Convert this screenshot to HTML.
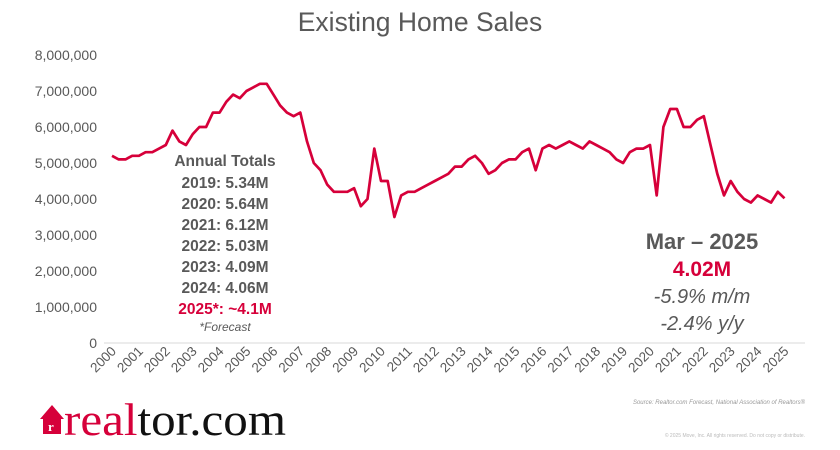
<!DOCTYPE html>
<html><head><meta charset="utf-8"><style>
body{margin:0;width:840px;height:450px;background:#fff;overflow:hidden;font-family:"Liberation Sans",sans-serif}
svg{display:block}
</style></head><body>
<svg width="840" height="450">
<text x="420" y="31" text-anchor="middle" font-size="26.5" fill="#595959">Existing Home Sales</text>
<g id="yaxis"></g><g id="xaxis"></g>
<line x1="104" y1="343" x2="805" y2="343" stroke="#d9d9d9"/>
<path id="line" fill="none" stroke="#d6003a" stroke-width="2.7" stroke-linejoin="round"/>
<g font-weight="bold" font-size="15.5" fill="#595959" text-anchor="middle">
<text x="225" y="166">Annual Totals</text>
<text x="225" y="188">2019: 5.34M</text>
<text x="225" y="209">2020: 5.64M</text>
<text x="225" y="230">2021: 6.12M</text>
<text x="225" y="251">2022: 5.03M</text>
<text x="225" y="272">2023: 4.09M</text>
<text x="225" y="293">2024: 4.06M</text>
<text x="225" y="314" fill="#d6003a">2025*: ~4.1M</text>
<text x="225" y="331" font-size="12" font-weight="normal" font-style="italic">*Forecast</text>
</g>
<g text-anchor="middle" fill="#595959">
<text x="702" y="249" font-size="22" font-weight="bold">Mar – 2025</text>
<text x="702" y="276" font-size="21" font-weight="bold" fill="#d6003a">4.02M</text>
<text x="702" y="303" font-size="20" font-style="italic">-5.9%  m/m</text>
<text x="702" y="330" font-size="20" font-style="italic">-2.4%  y/y</text>
</g>
<text x="805" y="404" text-anchor="end" font-size="6" font-style="italic" fill="#999">Source: Realtor.com Forecast, National Association of Realtors®</text>
<text x="805" y="437" text-anchor="end" font-size="5" fill="#bbb">© 2025 Move, Inc. All rights reserved. Do not copy or distribute.</text>
<g>
<path d="M40 419 L52 405 L64 419 L61 419 L61 434 L43 434 L43 419 Z" fill="#d6003a"/>
<text x="48" y="431" font-family="Liberation Serif,serif" font-size="13" font-weight="bold" fill="#fff">r</text>
<text x="64" y="435" font-family="Liberation Serif,serif" font-size="46" textLength="222" lengthAdjust="spacingAndGlyphs"><tspan fill="#d6003a">real</tspan><tspan fill="#111">tor.com</tspan></text>
</g>
</svg>
<script>
const yTicks=[0,1,2,3,4,5,6,7,8];
const yLabels=["0","1,000,000","2,000,000","3,000,000","4,000,000","5,000,000","6,000,000","7,000,000","8,000,000"];
const years=[2000,2001,2002,2003,2004,2005,2006,2007,2008,2009,2010,2011,2012,2013,2014,2015,2016,2017,2018,2019,2020,2021,2022,2023,2024,2025];
const startYear=2000;
const salesM=[5.2,5.1,5.1,5.2, 5.2,5.3,5.3,5.4, 5.5,5.9,5.6,5.5, 5.8,6.0,6.0,6.4, 6.4,6.7,6.9,6.8, 7.0,7.1,7.2,7.2,
6.9,6.6,6.4,6.3, 6.4,5.6,5.0,4.8, 4.4,4.2,4.2,4.2, 4.3,3.8,4.0,5.4, 4.5,4.5,3.5,4.1, 4.2,4.2,4.3,4.4,
4.5,4.6,4.7,4.9, 4.9,5.1,5.2,5.0, 4.7,4.8,5.0,5.1, 5.1,5.3,5.4,4.8, 5.4,5.5,5.4,5.5, 5.6,5.5,5.4,5.6,
5.5,5.4,5.3,5.1, 5.0,5.3,5.4,5.4, 5.5,4.1,6.0,6.5, 6.5,6.0,6.0,6.2, 6.3,5.5,4.7,4.1, 4.5,4.2,4.0,3.9,
4.1,4.0,3.9,4.2, 4.02];
const ns="http://www.w3.org/2000/svg";
const y=v=>343-v*36;
const x=t=>112+(t-2000)*26.9;
const ya=document.getElementById('yaxis');
yTicks.forEach((v,i)=>{const t=document.createElementNS(ns,'text');


t.setAttribute('x',97);t.setAttribute('y',y(v)+5);t.setAttribute('text-anchor','end');t.setAttribute('font-size','14');t.setAttribute('fill','#595959');t.textContent=yLabels[i];ya.appendChild(t);});
const xa=document.getElementById('xaxis');
years.forEach(yr=>{const t=document.createElementNS(ns,'text');


const px=x(yr)+5,py=352;
t.setAttribute('x',px);t.setAttribute('y',py);t.setAttribute('text-anchor','end');t.setAttribute('font-size','13.5');t.setAttribute('fill','#595959');
t.setAttribute('transform',`rotate(-45 ${px} ${py})`);t.textContent=yr;xa.appendChild(t);});
document.getElementById('line').setAttribute('d',salesM.map((v,i)=>(i?'L':'M')+x(startYear+i/4).toFixed(1)+' '+y(v).toFixed(1)).join(' '));
</script>
</body></html>
